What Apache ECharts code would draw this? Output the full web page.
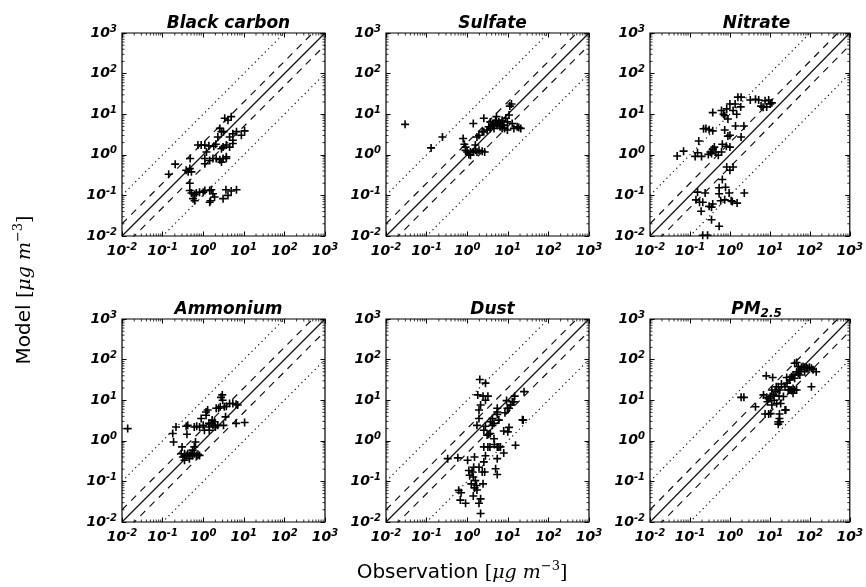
<!DOCTYPE html>
<html>
<head>
<meta charset="utf-8">
<script src="https://cdn.jsdelivr.net/npm/echarts@6/dist/echarts.min.js"></script>
<style>
  html, body { margin: 0; padding: 0; background: #fff; }
  #main { width: 866px; height: 587px; }
</style>
</head>
<body>
<div id="main"></div>
<script>
// panel titles (PM_2.5 gets a subscript)
const titles = ['Black carbon', 'Sulfate', 'Nitrate', 'Ammonium', 'Dust', 'PM_2.5'];

// points, stored as [log10(observation), log10(model)]
const blackCarbon = [
  [-0.85, -0.48], [-0.69, -0.23], [-0.42, -0.38], [-0.33, -0.34], [-0.37, -0.42], [-0.29, -0.42],
  [-0.32, -0.09], [-0.13, 0.24], [-0.05, 0.24], [0.04, 0.24], [0.14, 0.22], [0.08, 0.07],
  [0.04, -0.22], [0.26, 0.21], [0.31, 0.26], [0.36, 0.44], [0.41, 0.65], [0.45, 0.57],
  [0.5, 0.57], [0.53, 0.9], [0.61, 0.85], [0.69, 0.94], [0.73, 0.52], [0.65, 0.44],
  [0.82, 0.57], [0.94, 0.48], [1.02, 0.59], [0.49, 0.19], [0.57, 0.24], [0.65, 0.19],
  [0.73, 0.28], [0.45, 0.15], [0.24, -0.09], [0.32, -0.09], [0.41, -0.12], [0.49, -0.09],
  [0.57, -0.09], [0.45, -0.18], [0.04, -0.09], [0.16, -0.14], [0.57, -0.05], [0.73, 0.36],
  [-0.33, -0.88], [-0.29, -0.94], [-0.21, -0.98], [-0.33, -0.7], [-0.17, -0.94], [-0.09, -0.92],
  [0.0, -0.92], [0.04, -0.88], [-0.25, -1.08], [-0.21, -1.13], [0.16, -0.88], [0.2, -0.86],
  [0.24, -0.96], [0.28, -1.04], [0.18, -1.13], [0.16, -1.17], [0.49, -1.08], [0.61, -1.0],
  [0.56, -0.86], [0.69, -0.89], [0.82, -0.86]
];
const sulfate = [
  [-1.53, 0.75], [-0.89, 0.17], [-0.61, 0.44], [-0.1, 0.4], [-0.07, 0.26], [-0.04, 0.19],
  [-0.04, 0.11], [0.0, 0.07], [0.04, 0.01], [0.08, -0.01], [0.15, 0.07], [0.2, 0.11],
  [0.24, 0.07], [0.29, 0.11], [0.37, 0.09], [0.43, 0.07], [0.2, 0.24], [0.24, 0.44],
  [0.15, 0.77], [0.29, 0.48], [0.37, 0.57], [0.41, 0.9], [0.41, 0.57], [0.49, 0.61],
  [0.53, 0.69], [0.57, 0.81], [0.62, 0.73], [0.66, 0.77], [0.7, 0.85], [0.72, 0.94],
  [0.74, 0.73], [0.78, 0.81], [0.81, 0.69], [0.82, 0.77], [0.86, 0.85], [0.9, 0.73],
  [0.92, 0.65], [0.95, 0.9], [0.99, 0.81], [1.03, 0.98], [1.05, 1.2], [1.09, 1.25],
  [1.11, 0.77], [1.15, 0.65], [1.23, 0.69], [1.27, 0.67], [1.32, 0.65], [0.86, 0.65],
  [0.66, 0.65], [0.57, 0.65], [0.08, 0.07], [0.99, 0.61]
];
const nitrate = [
  [-1.32, -0.03], [-1.16, 0.09], [-0.87, -0.04], [-0.81, 0.05], [-0.78, 0.34], [-0.71, -0.04],
  [-0.66, 0.64], [-0.6, 0.65], [-0.52, 0.62], [-0.43, 0.59], [-0.54, 0.01], [-0.49, 0.07],
  [-0.46, 0.03], [-0.43, 0.14], [-0.39, 0.19], [-0.35, 0.07], [-0.29, -0.01], [-0.21, 0.07],
  [-0.19, 0.26], [-0.43, 1.04], [-0.21, 1.09], [-0.16, 1.0], [-0.13, 0.96], [-0.08, 1.13],
  [-0.05, 0.88], [0.0, 1.25], [0.08, 1.09], [0.17, 1.0], [0.13, 1.25], [0.2, 1.42],
  [0.28, 1.42], [0.27, 1.18], [-0.13, 0.61], [-0.05, 0.46], [0.0, 0.48], [-0.09, 0.21],
  [0.0, 0.19], [0.14, 0.71], [0.28, 0.44], [0.35, 0.71], [0.51, 1.35], [0.64, 1.37],
  [0.72, 1.35], [0.78, 1.2], [0.83, 1.17], [0.92, 1.18], [0.97, 1.35], [1.01, 1.25],
  [0.88, 1.33], [1.05, 1.28],
  [-0.81, -0.92], [-0.85, -1.11], [-0.76, -1.17], [-0.68, -1.17], [-0.72, -1.39], [-0.62, -0.94],
  [-0.52, -1.27], [-0.46, -1.29], [-0.43, -1.21], [-0.46, -1.6], [-0.27, -0.96], [-0.27, -0.81],
  [-0.27, -1.76], [-0.23, -1.13], [-0.19, -0.61], [-0.13, -1.11], [-0.11, -0.8], [-0.02, -0.94],
  [0.03, -1.13], [-0.08, -0.3], [0.08, -0.3], [0.06, -1.15], [0.18, -1.19], [0.36, -0.94],
  [-0.68, -1.98], [-0.56, -1.98], [0.0, -0.38]
];
const ammonium = [
  [-1.86, 0.3], [-0.75, 0.18], [-0.67, 0.34], [-0.73, -0.03], [-0.52, -0.15], [-0.42, 0.36],
  [-0.4, 0.16], [-0.38, 0.38], [-0.54, -0.32], [-0.5, -0.4], [-0.46, -0.32], [-0.42, -0.36],
  [-0.38, -0.32], [-0.34, -0.36], [-0.3, -0.32], [-0.26, -0.36], [-0.22, -0.32], [-0.17, -0.36],
  [-0.13, -0.33], [-0.09, -0.36], [-0.46, -0.48], [-0.34, -0.44], [-0.26, -0.23], [-0.22, -0.15],
  [-0.19, -0.03], [-0.22, 0.34], [-0.16, 0.36], [-0.09, 0.34], [-0.05, 0.55], [0.0, 0.38],
  [0.03, 0.26], [0.07, 0.63], [0.07, 0.71], [0.11, 0.76], [0.14, 0.43], [0.15, 0.34],
  [0.15, 0.26], [0.2, 0.43], [0.22, 0.51], [0.24, 0.38], [0.28, 0.47], [0.3, 0.34],
  [0.32, 0.8], [0.36, 0.38], [0.38, 0.8], [0.42, 0.84], [0.44, 1.07], [0.47, 1.13],
  [0.48, 1.0], [0.52, 0.84], [0.55, 0.59], [0.5, 0.38], [0.65, 0.92], [0.73, 0.92],
  [0.81, 0.9], [0.85, 0.88], [0.81, 0.43], [1.02, 0.45], [0.57, 0.85]
];
const dust = [
  [-0.48, -0.44], [-0.23, -0.42], [-0.21, -1.22], [-0.15, -1.28], [-0.17, -1.46], [-0.04, -1.54],
  [0.01, -0.48], [0.04, -0.73], [0.06, -0.85], [0.1, -1.06], [0.12, -0.77], [0.15, -0.89],
  [0.16, -0.65], [0.18, -0.4], [0.2, -0.98], [0.15, -1.36], [0.18, -1.16], [0.23, -1.1],
  [0.24, -1.21], [0.29, -0.65], [0.29, -1.54], [0.33, -1.79], [0.33, -1.43], [0.37, -0.77],
  [0.41, -0.52], [0.43, -0.77], [0.39, -1.06], [0.41, -0.15], [0.45, -0.37], [0.24, 0.38],
  [0.29, 0.55], [0.31, 1.51], [0.26, 1.13], [0.33, 0.88], [0.29, 0.76], [0.39, 1.1],
  [0.45, 1.42], [0.51, 1.1], [0.45, 1.0], [0.41, 0.26], [0.45, 0.36], [0.49, 0.14],
  [0.53, 0.16], [0.56, -0.15], [0.51, -0.15], [0.57, 0.18], [0.57, 0.47], [0.62, 0.55],
  [0.62, 0.38], [0.66, 0.43], [0.66, 0.05], [0.67, -0.09], [0.74, 0.65], [0.74, 0.8],
  [0.74, 0.71], [0.74, -0.15], [0.78, 0.51], [0.82, -0.15], [0.78, -0.15], [0.74, -0.44],
  [0.7, -0.69], [0.74, -0.83], [0.9, 0.24], [0.9, -0.3], [0.93, 0.69], [0.99, 0.8],
  [1.03, 0.8], [0.97, 0.99], [1.07, 0.88], [1.11, 0.96], [1.15, 0.96], [1.03, 0.33],
  [1.0, 0.22], [1.17, 1.1], [1.19, -0.11], [1.38, 0.51], [1.4, 1.21], [1.36, 0.52]
];
const pm25 = [
  [0.28, 1.07], [0.35, 1.07], [0.64, 0.84], [0.84, 1.13], [0.91, 1.6], [0.92, 1.07],
  [0.94, 0.96], [0.97, 1.04], [1.01, 1.09], [0.88, 0.66], [0.97, 0.66], [1.02, 0.67],
  [1.05, 0.88], [1.05, 1.25], [1.07, 1.56], [1.09, 1.13], [1.11, 1.0], [1.13, 1.21],
  [1.16, 1.33], [1.17, 0.92], [1.21, 1.33], [1.23, 1.1], [1.25, 1.25], [1.27, 0.92],
  [1.24, 0.66], [1.24, 0.55], [1.21, 0.47], [1.25, 0.47], [1.21, 0.41], [1.29, 1.4],
  [1.34, 1.09], [1.38, 1.33], [1.4, 0.76], [1.43, 1.42], [1.46, 1.25], [1.5, 1.5],
  [1.5, 1.25], [1.54, 1.58], [1.54, 1.24], [1.58, 1.62], [1.58, 1.29], [1.62, 1.91],
  [1.67, 1.93], [1.67, 1.7], [1.71, 1.66], [1.75, 1.75], [1.79, 1.81], [1.83, 1.83],
  [1.87, 1.81], [1.91, 1.81], [1.95, 1.79], [1.99, 1.81], [2.04, 1.79], [2.08, 1.75],
  [2.04, 1.33], [1.62, 1.54], [1.58, 1.17], [1.54, 1.25], [1.67, 1.25], [1.38, 0.76],
  [1.42, 1.56], [1.71, 1.83], [1.87, 1.7], [2.16, 1.7], [1.75, 1.62], [1.62, 1.25]
];
const panels = [blackCarbon, sulfate, nitrate, ammonium, dust, pm25];

// reference lines model = ratio * obs (solid 1:1, dashed 2x, dotted 10x)
const ratioSolid = [1];
const ratioDashed = [2, 0.5];
const ratioDotted = [10, 0.1];
const axisMin = 0.01;
const axisMax = 1000;
const minorSteps = [2, 3, 4, 5, 6, 7, 8, 9];

const gridLefts = [122, 386, 650];
const gridTops = [33, 319];
const gridSize = 203;

// minor tick positions 2..9 per decade
const minorVals = [];
for (let d = axisMin; d < axisMax * 0.99; d *= 10) {
  minorSteps.forEach(m => minorVals.push(d * m));
}

const plusPath = 'path://M4,0H6V4H10V6H6V10H4V6H0V4H4Z';
const tickFont = { fontFamily: 'DejaVu Sans', fontWeight: 'bold', fontStyle: 'italic', color: '#000' };
const tickRich = {
  b: Object.assign({ fontSize: 14, lineHeight: 18 }, tickFont),
  s: Object.assign({ fontSize: 10, lineHeight: 10, verticalAlign: 'top' }, tickFont)
};

function tickFormatter(v) {
  const e = Math.round(Math.log10(v));
  return '{b|10}{s|' + e + '}';
}

function minorTickItem(params, api) {
  const cs = params.coordSys;
  const v = api.value(0);
  const px = api.coord([v, axisMin])[0];
  const py = api.coord([axisMin, v])[1];
  const len = 2.5;
  const st = { stroke: '#000', lineWidth: 0.8 };
  const bottom = cs.y + cs.height;
  const right = cs.x + cs.width;
  return {
    type: 'group',
    children: [
      { type: 'line', shape: { x1: px, y1: bottom, x2: px, y2: bottom - len }, style: st },
      { type: 'line', shape: { x1: px, y1: cs.y, x2: px, y2: cs.y + len }, style: st },
      { type: 'line', shape: { x1: cs.x, y1: py, x2: cs.x + len, y2: py }, style: st },
      { type: 'line', shape: { x1: right, y1: py, x2: right - len, y2: py }, style: st }
    ]
  };
}

const grid = [];
const xAxis = [];
const yAxis = [];
const series = [];
const title = [];

panels.forEach((pts, i) => {
  const left = gridLefts[i % 3];
  const top = gridTops[Math.floor(i / 3)];
  grid.push({
    left: left, top: top, width: gridSize, height: gridSize,
    show: true, borderColor: '#000', borderWidth: 1.2, backgroundColor: '#fff'
  });
  const base = {
    type: 'log', logBase: 10, min: axisMin, max: axisMax, gridIndex: i,
    splitLine: { show: false },
    axisLine: { show: false },
    axisTick: { show: true, inside: true, length: 4.5, lineStyle: { color: '#000', width: 1 } }
  };
  // main axes with labels
  xAxis.push(Object.assign({}, base, {
    position: 'bottom',
    axisLabel: { formatter: tickFormatter, rich: tickRich, margin: 6 }
  }));
  yAxis.push(Object.assign({}, base, {
    position: 'left',
    axisLabel: { formatter: tickFormatter, rich: tickRich, margin: 5 }
  }));
  // mirrored ticks on top / right
  xAxis.push(Object.assign({}, base, { position: 'top', axisLabel: { show: false } }));
  yAxis.push(Object.assign({}, base, { position: 'right', axisLabel: { show: false } }));

  const ax = i * 2;
  const addLines = (ratios, type, width) => {
    ratios.forEach(r => {
      series.push({
        type: 'line', xAxisIndex: ax, yAxisIndex: ax, silent: true,
        symbol: 'none', clip: true, z: 1,
        lineStyle: { color: '#111', width: width, type: type },
        data: [[axisMin, axisMin * r], [axisMax, axisMax * r]]
      });
    });
  };
  addLines(ratioSolid, 'solid', 1.2);
  addLines(ratioDashed, [7, 6], 1.2);
  addLines(ratioDotted, [1.2, 3.5], 1.2);

  series.push({
    type: 'custom', xAxisIndex: ax, yAxisIndex: ax, silent: true, z: 2,
    renderItem: minorTickItem,
    data: minorVals.map(v => [v])
  });

  series.push({
    type: 'scatter', xAxisIndex: ax, yAxisIndex: ax, silent: true, z: 3,
    symbol: plusPath, symbolSize: 8,
    itemStyle: { color: '#000', opacity: 1 },
    data: pts.map(p => [Math.pow(10, p[0]), Math.pow(10, p[1])])
  });

  const name = titles[i];
  const parts = name.split('_');
  title.push({
    text: parts.length > 1 ? '{t|' + parts[0] + '}{u|' + parts[1] + '}' : '{t|' + name + '}',
    left: left + gridSize / 2,
    top: top - 24,
    textAlign: 'center',
    textStyle: {
      rich: {
        t: Object.assign({ fontSize: 17, lineHeight: 20 }, tickFont),
        u: Object.assign({ fontSize: 12, lineHeight: 12, verticalAlign: 'bottom' }, tickFont)
      }
    }
  });
});

const labelRich = {
  a: { fontFamily: 'DejaVu Sans', fontSize: 20, color: '#000', lineHeight: 26 },
  m: { fontFamily: 'DejaVu Serif', fontStyle: 'italic', fontSize: 19, color: '#000', lineHeight: 26 },
  p: { fontFamily: 'DejaVu Serif', fontSize: 19, color: '#000', lineHeight: 26 },
  s: { fontFamily: 'DejaVu Serif', fontSize: 13, color: '#000', lineHeight: 13, verticalAlign: 'top' }
};

const chart = echarts.init(document.getElementById('main'));
chart.setOption({
  animation: false,
  backgroundColor: '#fff',
  title: title,
  grid: grid,
  xAxis: xAxis,
  yAxis: yAxis,
  series: series,
  graphic: [
    {
      type: 'text', x: 462, y: 573,
      style: {
        text: '{a|Observation }{p|[}{m|μg m}{s|−3}{p|]}',
        rich: labelRich, align: 'center', verticalAlign: 'middle',
        textAlign: 'center', textVerticalAlign: 'middle'
      }
    },
    {
      type: 'text', x: 25, y: 290, rotation: Math.PI / 2,
      style: {
        text: '{a|Model }{p|[}{m|μg m}{s|−3}{p|]}',
        rich: labelRich, align: 'center', verticalAlign: 'middle',
        textAlign: 'center', textVerticalAlign: 'middle'
      }
    }
  ]
});
</script>
</body>
</html>
